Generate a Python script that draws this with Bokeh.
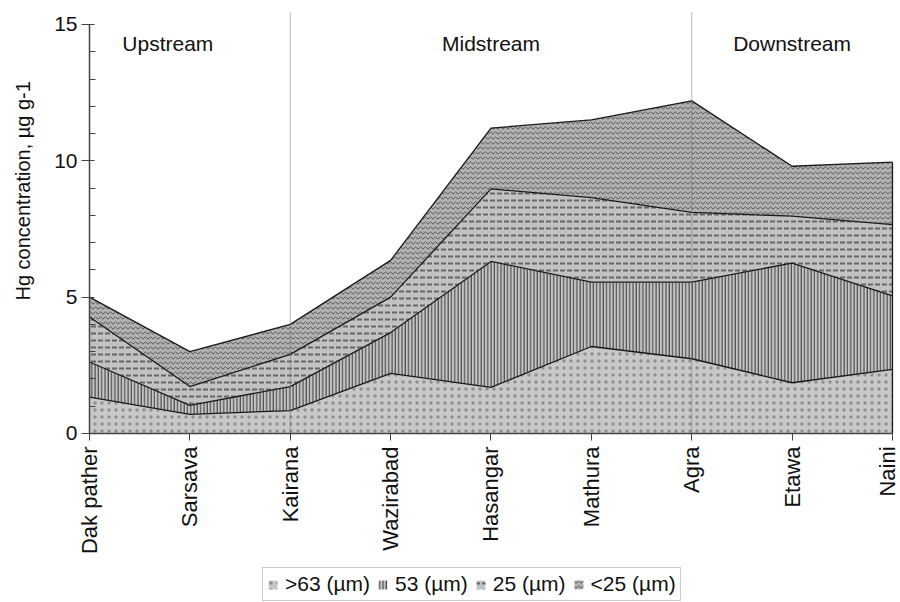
import math
import numpy as np
from bokeh.plotting import figure
from bokeh.models import (ColumnDataSource, Range1d, FixedTicker, Label,
                          Legend, LegendItem)
from bokeh.embed import file_html
from bokeh.resources import INLINE

# ---- data ----
sites = ["Dak pather", "Sarsava", "Kairana", "Wazirabad", "Hasangar",
         "Mathura", "Agra", "Etawa", "Naini"]
gt63 = [1.33, 0.70, 0.84, 2.20, 1.69, 3.19, 2.74, 1.86, 2.35]
s53 = [1.29, 0.33, 0.88, 1.50, 4.62, 2.36, 2.81, 4.39, 2.70]
s25 = [1.65, 0.69, 1.18, 1.30, 2.66, 3.10, 2.56, 1.72, 2.61]
lt25 = [0.73, 1.28, 1.10, 1.35, 2.23, 2.85, 4.09, 1.83, 2.29]
series_labels = [">63 (µm)", "53 (µm)", "25 (µm)", "<25 (µm)"]
y_ticks = [0, 5, 10, 15]
y_label = "Hg concentration, µg g-1"
regions = ["Upstream", "Midstream", "Downstream"]
region_pos = [0.78, 4.0, 7.0]
dividers = [2, 6]

FONT = "Liberation Sans"
# the frame covers the whole canvas; axes are drawn at fixed data locations
X_START, X_END = -0.887, 8.08
Y_BOTTOM, Y_TOP = -6.2, 15.88
DIV_TOP = 15.44

xs = list(range(len(sites)))
source = ColumnDataSource(dict(x=xs, gt63=gt63, s53=s53, s25=s25, lt25=lt25))
stackers = ["gt63", "s53", "s25", "lt25"]
total = np.array(gt63) + np.array(s53) + np.array(s25) + np.array(lt25)

p = figure(width=900, height=602, x_range=Range1d(X_START, X_END),
           y_range=Range1d(Y_BOTTOM, Y_TOP), output_backend="svg",
           toolbar_location=None, min_border_left=0, min_border_right=0,
           min_border_top=0, min_border_bottom=0)
p.grid.visible = False
p.outline_line_color = None
p.background_fill_color = "white"

areas = p.varea_stack(
    stackers=stackers, x="x", source=source,
    fill_color=["#c8c8c8", "#c4c4c4", "#c2c2c2", "#b2b2b2"],
    hatch_pattern=["dot", "vertical_line", "horizontal_dash", "horizontal_wave"],
    hatch_color=["#909090", "#383838", "#666666", "#555555"],
    hatch_scale=[7, 3.3, 7, 5],
    hatch_weight=[1, 1, 2, 1],
)
p.vline_stack(stackers=stackers, x="x", source=source,
              line_color="#1a1a1a", line_width=1.3)
p.segment(x0=[xs[-1]], y0=[0], x1=[xs[-1]], y1=[total[-1]],
          line_color="#1a1a1a", line_width=1.3)

# region dividers (dotted), from the axis up
p.segment(x0=dividers, y0=[0] * len(dividers), x1=dividers,
          y1=[DIV_TOP] * len(dividers), line_color="#707070",
          line_width=1, line_dash="1 1")

for name, xp in zip(regions, region_pos):
    p.add_layout(Label(x=xp, y=14.3, text=name, text_align="center",
                       text_baseline="middle", text_font=FONT,
                       text_font_size="21px", text_color="#111111"))

p.add_layout(Label(x=-0.667, y=8.9, text=y_label, angle=math.pi / 2,
                   text_align="center", text_baseline="middle",
                   text_font=FONT, text_font_size="20px",
                   text_color="#111111"))

# axes
ya = p.yaxis[0]
ya.fixed_location = 0
ya.ticker = FixedTicker(ticks=y_ticks, minor_ticks=[1, 2, 3, 4, 6, 7, 8, 9, 11, 12, 13, 14])
ya.bounds = (0, 15)
ya.major_label_text_font = FONT
ya.major_label_text_font_size = "21px"
ya.major_label_standoff = 4
ya.major_tick_out = 8
ya.major_tick_in = 5
ya.minor_tick_out = 0
ya.minor_tick_in = 6

xa = p.xaxis[0]
xa.fixed_location = 0
xa.bounds = (0, len(sites) - 1)
xa.ticker = FixedTicker(ticks=xs)
xa.major_label_overrides = {i: s for i, s in zip(xs, sites)}
xa.major_label_orientation = math.pi / 2
xa.major_label_text_font = FONT
xa.major_label_text_font_size = "22px"
xa.major_label_standoff = 6
xa.major_tick_out = 7
xa.major_tick_in = 0

for ax in (xa, ya):
    ax.axis_line_color = "#444444"
    ax.axis_line_width = 1.5
    ax.major_tick_line_color = "#444444"
    ax.major_label_text_color = "#111111"
ya.minor_tick_line_color = "#444444"
xa.minor_tick_line_color = None

legend = Legend(
    items=[LegendItem(label=lab, renderers=[r]) for lab, r in zip(series_labels, areas)],
    orientation="horizontal", location=(262, 1),
    label_text_font=FONT, label_text_font_size="21px",
    label_text_color="#111111", glyph_width=11, glyph_height=11,
    label_standoff=7, spacing=7, padding=4, margin=0,
    border_line_color="#999999", border_line_width=1,
    background_fill_color="white",
)
p.add_layout(legend, "center")

open("out.html", "w").write(file_html(p, INLINE))
